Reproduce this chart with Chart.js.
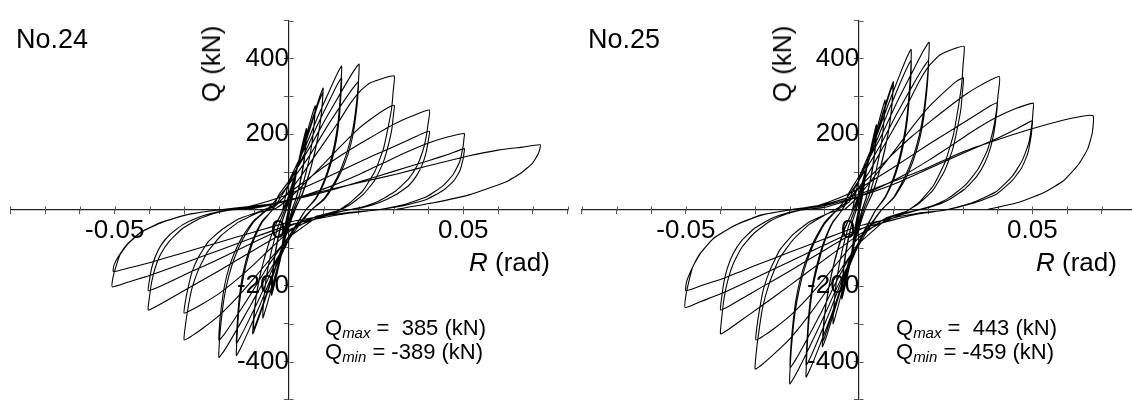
<!DOCTYPE html>
<html>
<head>
<meta charset="utf-8">
<script src="https://cdn.jsdelivr.net/npm/chart.js@4/dist/chart.umd.min.js"></script>
<style>
  html, body { margin: 0; padding: 0; background: #fff; overflow: hidden; }
  #wrap { position: relative; width: 1132px; height: 408px; overflow: hidden; background: #fff; }
  canvas { position: absolute; top: 0; }
  .lbl { position: absolute; font-family: "Liberation Sans", Arial, sans-serif; color: #000; white-space: pre; line-height: 1; }
  .rot { transform: translate(-50%, -50%) rotate(-90deg); }
  .peak { font-size: 22px; line-height: 21.6px; }
  .peak .sub { font-size: 15px; font-style: italic; position: relative; top: 3px; }
</style>
</head>
<body>
<div id="wrap">
  <canvas id="c24" width="575" height="420" style="left:0px;width:575px;height:420px"></canvas>
  <canvas id="c25" width="580" height="420" style="left:570px;width:580px;height:420px"></canvas>

  <div class="lbl" style="left:16px;top:26px;font-size:27px">No.24</div>
  <div class="lbl rot" style="left:211px;top:64px;font-size:26px">Q (kN)</div>
  <div class="lbl" style="left:469px;top:249px;font-size:26px"><i>R</i> (rad)</div>
  <div class="lbl peak" id="pk24" style="left:325px;top:317px"></div>

  <div class="lbl" style="left:588px;top:26px;font-size:27px">No.25</div>
  <div class="lbl rot" style="left:782px;top:64px;font-size:26px">Q (kN)</div>
  <div class="lbl" style="left:1036px;top:249px;font-size:26px"><i>R</i> (rad)</div>
  <div class="lbl peak" id="pk25" style="left:896px;top:317px"></div>
</div>
<script>
// Story drift angle R (rad) vs. shear force Q (kN), cyclic loading history
// Each entry: [R, Q]
const loops24 = [
  [0,0],
  [0.0006,38],[0.00125,70],[0.0009,45],[0.0004,12],[0,-12],[-0.0006,-40],[-0.00125,-70],[-0.0009,-45],[-0.0004,-12],[0,10],
  [0.0012,62],[0.0025,125],[0.0019,85],[0.001,35],[0.0003,5],[-0.0005,-25],[-0.0015,-80],[-0.0025,-130],[-0.0019,-88],[-0.001,-35],[-0.0003,-5],
  [0.0005,25],[0.002,95],[0.0035,160],[0.005,215],[0.0048,176],[0.00425,129],[0.00325,77],[0.002,30],[0.001,4],[0,-29],[-0.00175,-101],[-0.0035,-171],[-0.0045,-209],[-0.005,-225],[-0.0048,-185],[-0.00425,-135],[-0.00325,-81],[-0.002,-32],[-0.001,-5],[0,27],[0.00175,92],[0.0035,156],[0.0045,191],[0.005,205],
  [0.0048,168],[0.00425,123],[0.00325,74],[0.002,29],[0.001,4],[0,-28],[-0.00175,-97],[-0.0035,-163],[-0.0045,-200],[-0.005,-215],[-0.0048,-176],[-0.00425,-129],[-0.00325,-77],[-0.002,-30],[-0.001,-4],[0,36],[0.0026,124],[0.0053,209],[0.0068,256],[0.0075,275],
  [0.0072,226],[0.0064,165],[0.0049,99],[0.003,39],[0.0015,6],[0,-37],[-0.0026,-128],[-0.0053,-217],[-0.0068,-265],[-0.0075,-285],[-0.0072,-234],[-0.0064,-171],[-0.0049,-103],[-0.003,-40],[-0.0015,-6],[0,42],[0.0034,145],[0.0069,245],[0.0088,299],[0.0098,322],
  [0.0094,264],[0.0083,193],[0.0064,116],[0.0039,45],[0.002,6],[0,-43],[-0.0036,-147],[-0.0073,-249],[-0.0094,-304],[-0.0104,-327],[-0.01,-268],[-0.0088,-196],[-0.0068,-118],[-0.0042,-46],[-0.0021,-7],[0,40],[0.0034,140],[0.0068,236],[0.0087,288],[0.0097,310],
  [0.0093,254],[0.0082,186],[0.0063,112],[0.0039,43],[0.0019,6],[0,-41],[-0.0036,-142],[-0.0071,-239],[-0.0092,-293],[-0.0102,-315],[-0.0098,-258],[-0.0087,-189],[-0.0066,-113],[-0.0041,-44],[-0.002,-6],[0,76],[0.0045,163],[0.0083,247],[0.0118,319],[0.0139,361],[0.0151,380],
  [0.0149,331],[0.0145,274],[0.0139,220],[0.013,171],[0.0118,125],[0.01,76],[0.0076,30],[0.0048,0],[0.0023,-38],[0,-77],[-0.0045,-165],[-0.0083,-250],[-0.0118,-323],[-0.0139,-365],[-0.0151,-384],[-0.0149,-334],[-0.0145,-276],[-0.0139,-223],[-0.013,-173],[-0.0118,-127],[-0.01,-77],[-0.0076,-31],[-0.0048,0],[-0.0023,35],[0,70],[0.0045,150],[0.0083,227],[0.0118,293],[0.0139,332],[0.0151,349],
  [0.0149,304],[0.0145,251],[0.0139,202],[0.013,157],[0.0118,115],[0.01,70],[0.0076,28],[0.0048,0],[0.0023,-35],[0,-70],[-0.0045,-151],[-0.0083,-229],[-0.0118,-296],[-0.0139,-334],[-0.0151,-352],[-0.0149,-306],[-0.0145,-253],[-0.0139,-204],[-0.013,-158],[-0.0118,-116],[-0.01,-70],[-0.0076,-28],[-0.0048,0],[-0.003,39],[0,77],[0.006,166],[0.0111,250],[0.0157,323],[0.0185,366],[0.0201,385],
  [0.0199,335],[0.0193,277],[0.0185,223],[0.0173,173],[0.0157,127],[0.0133,77],[0.0101,31],[0.0064,0],[0.003,-39],[0,-78],[-0.006,-167],[-0.0111,-253],[-0.0157,-327],[-0.0185,-370],[-0.0201,-389],[-0.0199,-338],[-0.0193,-280],[-0.0185,-226],[-0.0173,-175],[-0.0157,-128],[-0.0133,-78],[-0.0101,-31],[-0.0064,0],[-0.003,34],[0,68],[0.006,145],[0.0109,220],[0.0155,284],[0.0183,321],[0.0199,338],
  [0.0197,294],[0.0191,243],[0.0183,196],[0.0171,152],[0.0155,112],[0.0131,68],[0.01,27],[0.0064,0],[0.003,-34],[0,-69],[-0.006,-148],[-0.0111,-224],[-0.0157,-289],[-0.0185,-327],[-0.0201,-344],[-0.0199,-299],[-0.0193,-248],[-0.0185,-200],[-0.0173,-155],[-0.0157,-114],[-0.0133,-69],[-0.0101,-28],[-0.0064,0],[-0.004,10],[0.0003,52],[0.0032,86],[0.007,137],[0.0108,187],[0.0146,238],[0.0175,280],[0.0204,314],[0.0232,335],[0.0271,348],[0.0302,354],
  [0.0299,314],[0.0295,272],[0.0285,221],[0.0271,162],[0.0247,103],[0.0213,52],[0.0175,19],[0.0137,-3],[0.008,-20],[0.004,-45],[0,-72],[-0.005,-125],[-0.01,-180],[-0.015,-232],[-0.02,-278],[-0.025,-314],[-0.028,-333],[-0.0301,-343],[-0.0298,-310],[-0.029,-260],[-0.0279,-209],[-0.026,-158],[-0.0232,-108],[-0.0193,-66],[-0.0145,-32],[-0.0088,-7],[-0.004,3],[0,30],[0.005,75],[0.01,122],[0.015,170],[0.02,215],[0.025,250],[0.028,268],[0.0302,276],
  [0.0299,246],[0.0295,213],[0.0285,171],[0.0271,127],[0.0247,80],[0.0213,41],[0.0175,14],[0.0137,-3],[0.008,-16],[0.004,-36],[0,-57],[-0.005,-99],[-0.01,-143],[-0.015,-184],[-0.02,-220],[-0.025,-249],[-0.028,-264],[-0.0301,-272],[-0.0298,-245],[-0.029,-207],[-0.0279,-166],[-0.026,-125],[-0.0232,-84],[-0.0193,-52],[-0.0145,-24],[-0.0088,-5],[-0.004,13],[0,45],[0.005,79],[0.0101,114],[0.0151,145],[0.0202,174],[0.0252,201],[0.0302,227],[0.0353,248],[0.0403,264],
  [0.0399,227],[0.0393,190],[0.0383,153],[0.0367,116],[0.0343,82],[0.0306,50],[0.0258,24],[0.021,8],[0.0169,0],[0.0121,-11],[0.0061,-29],[0,-53],[-0.0101,-106],[-0.0202,-161],[-0.0283,-203],[-0.0343,-235],[-0.0384,-256],[-0.0404,-264],[-0.04,-227],[-0.0394,-190],[-0.0384,-153],[-0.0368,-116],[-0.0343,-82],[-0.0307,-50],[-0.0259,-24],[-0.021,-8],[-0.017,0],[-0.0121,8],[-0.006,23],[0,42],[0.0101,83],[0.0202,127],[0.0282,160],[0.0343,185],[0.0383,202],[0.0403,208],
  [0.0399,179],[0.0393,150],[0.0383,121],[0.0367,92],[0.0343,64],[0.0306,40],[0.0258,19],[0.021,6],[0.0169,0],[0.0121,-9],[0.0061,-23],[0,-43],[-0.0101,-85],[-0.0202,-130],[-0.0283,-164],[-0.0343,-190],[-0.0384,-207],[-0.0404,-213],[-0.04,-183],[-0.0394,-153],[-0.0384,-124],[-0.0368,-94],[-0.0343,-66],[-0.0307,-40],[-0.0259,-19],[-0.021,-6],[-0.017,0],[-0.01,5],[-0.0026,19],[0.0051,40],[0.0127,65],[0.0204,95],[0.0271,124],[0.0328,149],[0.0395,175],[0.0452,192],[0.0503,202],
  [0.0502,188],[0.05,170],[0.049,128],[0.0472,95],[0.0443,65],[0.0395,35],[0.0328,14],[0.025,0],[0.0175,-8],[0.01,-20],[0,-40],[-0.01,-72],[-0.02,-106],[-0.03,-140],[-0.04,-173],[-0.046,-190],[-0.0507,-203],[-0.0505,-178],[-0.0495,-145],[-0.0485,-118],[-0.0461,-88],[-0.0423,-58],[-0.0365,-33],[-0.0289,-12],[-0.0203,0],[-0.0107,7],[0,25],[0.01,47],[0.02,74],[0.03,102],[0.04,130],[0.046,148],[0.0503,162],
  [0.0502,150],[0.05,136],[0.049,103],[0.0472,76],[0.0443,52],[0.0395,28],[0.0328,11],[0.025,0],[0.0175,-6],[0.01,-16],[0,-32],[-0.01,-58],[-0.02,-85],[-0.03,-112],[-0.04,-139],[-0.046,-153],[-0.0504,-163],[-0.0502,-145],[-0.0485,-116],[-0.0461,-87],[-0.0423,-57],[-0.0365,-32],[-0.0289,-11],[-0.0203,0],[-0.0107,10],[-0.004,18],[0,27],[0.01,50],[0.02,72],[0.031,95],[0.04,117],[0.0517,143],[0.06,158],[0.067,166],[0.0721,172],
  [0.0716,150],[0.0699,124],[0.0665,97],[0.062,73],[0.0517,40],[0.0414,19],[0.031,2]
];

const loops25 = [
  [0,0],
  [0.0006,40],[0.00125,75],[0.0009,48],[0.0004,13],[0,-13],[-0.0006,-43],[-0.00125,-75],[-0.0009,-48],[-0.0004,-13],[0,11],
  [0.0012,70],[0.0025,135],[0.0019,92],[0.001,38],[0.0003,5],[-0.0005,-27],[-0.0015,-86],[-0.0025,-140],[-0.0019,-95],[-0.001,-38],[-0.0003,-5],
  [0.0005,26],[0.002,100],[0.0035,168],[0.005,225],[0.0048,185],[0.00425,135],[0.00325,81],[0.002,32],[0.001,5],[0,-31],[-0.00175,-106],[-0.0035,-179],[-0.0045,-219],[-0.005,-235],[-0.0048,-193],[-0.00425,-141],[-0.00325,-85],[-0.002,-33],[-0.001,-5],[0,28],[0.00175,97],[0.0035,163],[0.0045,200],[0.005,215],
  [0.0048,176],[0.00425,129],[0.00325,77],[0.002,30],[0.001,4],[0,-29],[-0.00175,-101],[-0.0035,-171],[-0.0045,-209],[-0.005,-225],[-0.0048,-185],[-0.00425,-135],[-0.00325,-81],[-0.002,-32],[-0.001,-5],[0,38],[0.0026,131],[0.0053,220],[0.0068,270],[0.0075,290],
  [0.0072,238],[0.0064,174],[0.0049,104],[0.003,41],[0.0015,6],[0,-39],[-0.0026,-135],[-0.0053,-228],[-0.0068,-279],[-0.0075,-300],[-0.0072,-246],[-0.0064,-180],[-0.0049,-108],[-0.003,-42],[-0.0015,-6],[0,44],[0.0035,153],[0.0069,258],[0.0089,315],[0.0099,339],
  [0.0095,278],[0.0084,203],[0.0064,122],[0.004,47],[0.002,7],[0,-47],[-0.0037,-162],[-0.0074,-274],[-0.0095,-336],[-0.0106,-361],[-0.0102,-296],[-0.009,-217],[-0.0069,-130],[-0.0042,-51],[-0.0021,-7],[0,43],[0.0034,149],[0.0069,251],[0.0088,307],[0.0098,330],
  [0.0094,271],[0.0083,198],[0.0064,119],[0.0039,46],[0.002,7],[0,-45],[-0.0036,-155],[-0.0073,-262],[-0.0094,-321],[-0.0104,-345],[-0.01,-283],[-0.0088,-207],[-0.0068,-124],[-0.0042,-48],[-0.0021,-7],[0,85],[0.0045,182],[0.0083,276],[0.0117,356],[0.0138,403],[0.015,424],
  [0.0149,369],[0.0144,305],[0.0138,246],[0.0129,191],[0.0117,140],[0.0099,85],[0.0075,34],[0.0048,0],[0.0023,-44],[0,-88],[-0.0046,-190],[-0.0084,-287],[-0.0119,-370],[-0.0141,-419],[-0.0153,-441],[-0.0151,-384],[-0.0147,-318],[-0.0141,-256],[-0.0132,-198],[-0.0119,-146],[-0.0101,-88],[-0.0077,-35],[-0.0049,0],[-0.0023,40],[0,79],[0.0045,170],[0.0083,257],[0.0117,332],[0.0138,375],[0.015,395],
  [0.0149,344],[0.0144,284],[0.0138,229],[0.0129,178],[0.0117,130],[0.0099,79],[0.0075,32],[0.0048,0],[0.0023,-41],[0,-82],[-0.0046,-176],[-0.0084,-267],[-0.0119,-344],[-0.0141,-390],[-0.0153,-410],[-0.0151,-357],[-0.0147,-295],[-0.0141,-238],[-0.0132,-185],[-0.0119,-135],[-0.0101,-82],[-0.0077,-33],[-0.0049,0],[-0.003,44],[0,89],[0.0061,190],[0.0111,288],[0.0158,372],[0.0186,421],[0.0202,443],
  [0.02,385],[0.0194,319],[0.0186,257],[0.0174,199],[0.0158,146],[0.0133,89],[0.0101,35],[0.0065,0],[0.003,-46],[0,-92],[-0.006,-197],[-0.011,-298],[-0.0156,-386],[-0.0184,-436],[-0.02,-459],[-0.0198,-399],[-0.0192,-330],[-0.0184,-266],[-0.0172,-207],[-0.0156,-151],[-0.0132,-92],[-0.01,-37],[-0.0064,0],[-0.003,39],[0,79],[0.006,169],[0.011,256],[0.0156,331],[0.0184,374],[0.02,394],
  [0.0198,343],[0.0192,284],[0.0184,229],[0.0172,177],[0.0156,130],[0.0132,79],[0.01,32],[0.0064,0],[0.003,-42],[0,-83],[-0.006,-179],[-0.0109,-270],[-0.0155,-349],[-0.0183,-395],[-0.0199,-416],[-0.0197,-362],[-0.0191,-300],[-0.0183,-241],[-0.0171,-187],[-0.0155,-137],[-0.0131,-83],[-0.01,-33],[-0.0064,0],[-0.003,20],[0.0003,64],[0.0032,105],[0.007,167],[0.0108,228],[0.0146,290],[0.0175,342],[0.0204,383],[0.0233,409],[0.0272,425],[0.0303,432],
  [0.03,383],[0.0296,332],[0.0286,270],[0.0272,198],[0.0248,126],[0.0214,64],[0.0176,23],[0.0138,-3],[0.008,-24],[0.004,-55],[0,-88],[-0.005,-153],[-0.01,-221],[-0.015,-284],[-0.02,-340],[-0.025,-384],[-0.028,-408],[-0.03,-420],[-0.0297,-378],[-0.0289,-319],[-0.0278,-256],[-0.0259,-193],[-0.0231,-130],[-0.0192,-80],[-0.0144,-38],[-0.0087,-8],[-0.004,3],[0,38],[0.005,95],[0.01,154],[0.015,215],[0.02,271],[0.025,315],[0.028,339],[0.0301,349],
  [0.0298,310],[0.0294,268],[0.0284,218],[0.027,160],[0.0246,102],[0.0212,51],[0.0175,19],[0.0137,-3],[0.008,-20],[0.004,-45],[0,-72],[-0.005,-125],[-0.0099,-180],[-0.0148,-232],[-0.0198,-278],[-0.0247,-314],[-0.0277,-333],[-0.0298,-343],[-0.0295,-309],[-0.0287,-261],[-0.0276,-209],[-0.0257,-158],[-0.0229,-106],[-0.0191,-65],[-0.0143,-31],[-0.0086,-7],[-0.004,18],[0,60],[0.0051,106],[0.0101,151],[0.0152,194],[0.0203,232],[0.0253,268],[0.0304,303],[0.0354,331],[0.0405,352],
  [0.0401,303],[0.0395,253],[0.0385,204],[0.0369,155],[0.0344,109],[0.0308,67],[0.0259,32],[0.0211,11],[0.017,0],[0.012,-13],[0.006,-36],[0,-65],[-0.01,-131],[-0.02,-199],[-0.028,-252],[-0.034,-291],[-0.038,-317],[-0.04,-327],[-0.0396,-281],[-0.039,-235],[-0.038,-190],[-0.0364,-144],[-0.034,-101],[-0.0304,-62],[-0.0256,-29],[-0.0208,-10],[-0.0168,0],[-0.012,11],[-0.006,31],[0,57],[0.01,113],[0.02,173],[0.0279,218],[0.0339,252],[0.0379,275],[0.0399,283],
  [0.0395,243],[0.0389,204],[0.0379,164],[0.0363,125],[0.0339,88],[0.0303,54],[0.0255,25],[0.0207,8],[0.0168,0],[0.012,-11],[0.006,-29],[0,-53],[-0.01,-106],[-0.02,-161],[-0.028,-203],[-0.034,-235],[-0.038,-256],[-0.04,-264],[-0.0396,-227],[-0.039,-190],[-0.038,-153],[-0.0364,-116],[-0.034,-82],[-0.0304,-50],[-0.0256,-24],[-0.0208,-8],[-0.0168,0],[-0.01,7],[-0.0026,27],[0.0051,56],[0.0127,91],[0.0204,133],[0.0271,173],[0.0328,208],[0.0395,244],[0.0452,268],[0.0503,282],
  [0.0502,262],[0.05,237],[0.049,178],[0.0472,133],[0.0443,90],[0.0395,48],[0.0328,20],[0.025,0],[0.0173,-10],[0.0099,-26],[0,-51],[-0.0099,-92],[-0.0198,-135],[-0.0297,-178],[-0.0396,-220],[-0.0455,-241],[-0.0502,-258],[-0.05,-226],[-0.049,-184],[-0.048,-150],[-0.0456,-112],[-0.0419,-74],[-0.0361,-42],[-0.0286,-15],[-0.0201,0],[-0.0107,10],[0,36],[0.01,68],[0.0199,108],[0.0298,149],[0.0398,189],[0.0458,216],[0.05,236],
  [0.0499,219],[0.0497,198],[0.0487,150],[0.0469,111],[0.044,76],[0.0393,40],[0.0326,17],[0.0249,0],[0.0174,-8],[0.0099,-21],[0,-42],[-0.0099,-76],[-0.0199,-111],[-0.0298,-146],[-0.0397,-182],[-0.0457,-200],[-0.05,-213],[-0.0498,-190],[-0.0481,-152],[-0.0458,-114],[-0.042,-75],[-0.0362,-42],[-0.0287,-14],[-0.0202,0],[-0.0107,13],[-0.004,30],[0.0008,44],[0.0092,73],[0.0196,111],[0.03,154],[0.0404,187],[0.0509,217],[0.0613,242],[0.0675,249],
  [0.0673,204],[0.066,162],[0.0633,120],[0.0591,78],[0.0529,44],[0.0456,19],[0.0373,2]
];

// Axis ticks and their labels
const rTickValues = [-0.08,-0.07,-0.06,-0.05,-0.04,-0.03,-0.02,-0.01,0,0.01,0.02,0.03,0.04,0.05,0.06,0.07,0.08];
const rTickText   = ['','','','-0.05','','','','','0   ','','','','','0.05','','',''];
const qTickValues = [-500,-400,-300,-200,-100,0,100,200,300,400,500];
const qTickText   = ['','-400','','-200','','','','200','','400',''];

const FONT = '"Liberation Sans", Arial, sans-serif';

// short tick marks on the inner side of both axes (the scale draws the outer side)
const innerTicks = {
  id: 'innerTicks',
  beforeDatasetsDraw(chart) {
    const { ctx, scales: { x, y } } = chart;
    const x0 = Math.round(x.getPixelForValue(0)) + 0.5;
    const y0 = Math.round(y.getPixelForValue(0)) + 0.5;
    ctx.save();
    ctx.strokeStyle = '#555';
    ctx.lineWidth = 1;
    ctx.beginPath();
    x.ticks.forEach(t => {
      const px = Math.round(x.getPixelForValue(t.value)) + 0.5;
      ctx.moveTo(px, y0); ctx.lineTo(px, y0 - 4);
    });
    y.ticks.forEach(t => {
      const py = Math.round(y.getPixelForValue(t.value)) + 0.5;
      ctx.moveTo(x0, py); ctx.lineTo(x0 + 4, py);
    });
    ctx.stroke();
    ctx.restore();
  }
};

function drawLoops(canvasId, loops, padding) {
  return new Chart(document.getElementById(canvasId), {
    type: 'scatter',
    data: {
      datasets: [{
        data: loops.map(p => ({ x: p[0], y: p[1] })),
        showLine: true,
        borderColor: '#000',
        borderWidth: 1.1,
        pointRadius: 0,
        tension: 0.15,
        fill: false
      }]
    },
    options: {
      responsive: false,
      animation: false,
      events: [],
      layout: { padding },
      plugins: { legend: { display: false }, tooltip: { enabled: false } },
      scales: {
        x: {
          type: 'linear',
          min: -0.08, max: 0.08,
          position: { y: 0 },
          afterBuildTicks: s => { s.ticks = rTickValues.map(v => ({ value: v })); },
          grid: { drawOnChartArea: false, drawTicks: true, tickLength: 4, color: '#555', lineWidth: 1 },
          border: { display: true, color: '#222', width: 1.2 },
          ticks: {
            autoSkip: false, maxRotation: 0, padding: 1, color: '#000',
            font: { family: FONT, size: 26 },
            callback: (v, i) => rTickText[i]
          }
        },
        y: {
          type: 'linear',
          min: -500, max: 500,
          position: { x: 0 },
          afterBuildTicks: s => { s.ticks = qTickValues.map(v => ({ value: v })); },
          grid: { drawOnChartArea: false, drawTicks: true, tickLength: 4, color: '#555', lineWidth: 1 },
          border: { display: true, color: '#222', width: 1.2 },
          ticks: {
            autoSkip: false, padding: 5, color: '#000',
            font: { family: FONT, size: 26 },
            callback: (v, i) => qTickText[i]
          }
        }
      }
    },
    plugins: [innerTicks]
  });
}

drawLoops('c24', loops24, { left: 10.2, right: 7.2, top: 13.2, bottom: 11.8 });
drawLoops('c25', loops25, { left: 11.9, right: 13.7, top: 13.2, bottom: 11.8 });

// peak shear text, taken from the plotted series
function peakHtml(loops) {
  const qs = loops.map(p => p[1]);
  const qMax = Math.max(...qs), qMin = Math.min(...qs);
  const pad = v => (v < 0 ? String(v) : ' ' + v);
  return 'Q<span class="sub">max</span> = ' + pad(qMax) + ' (kN)\n' +
         'Q<span class="sub">min</span> = ' + pad(qMin) + ' (kN)';
}
document.getElementById('pk24').innerHTML = peakHtml(loops24);
document.getElementById('pk25').innerHTML = peakHtml(loops25);
</script>
</body>
</html>
